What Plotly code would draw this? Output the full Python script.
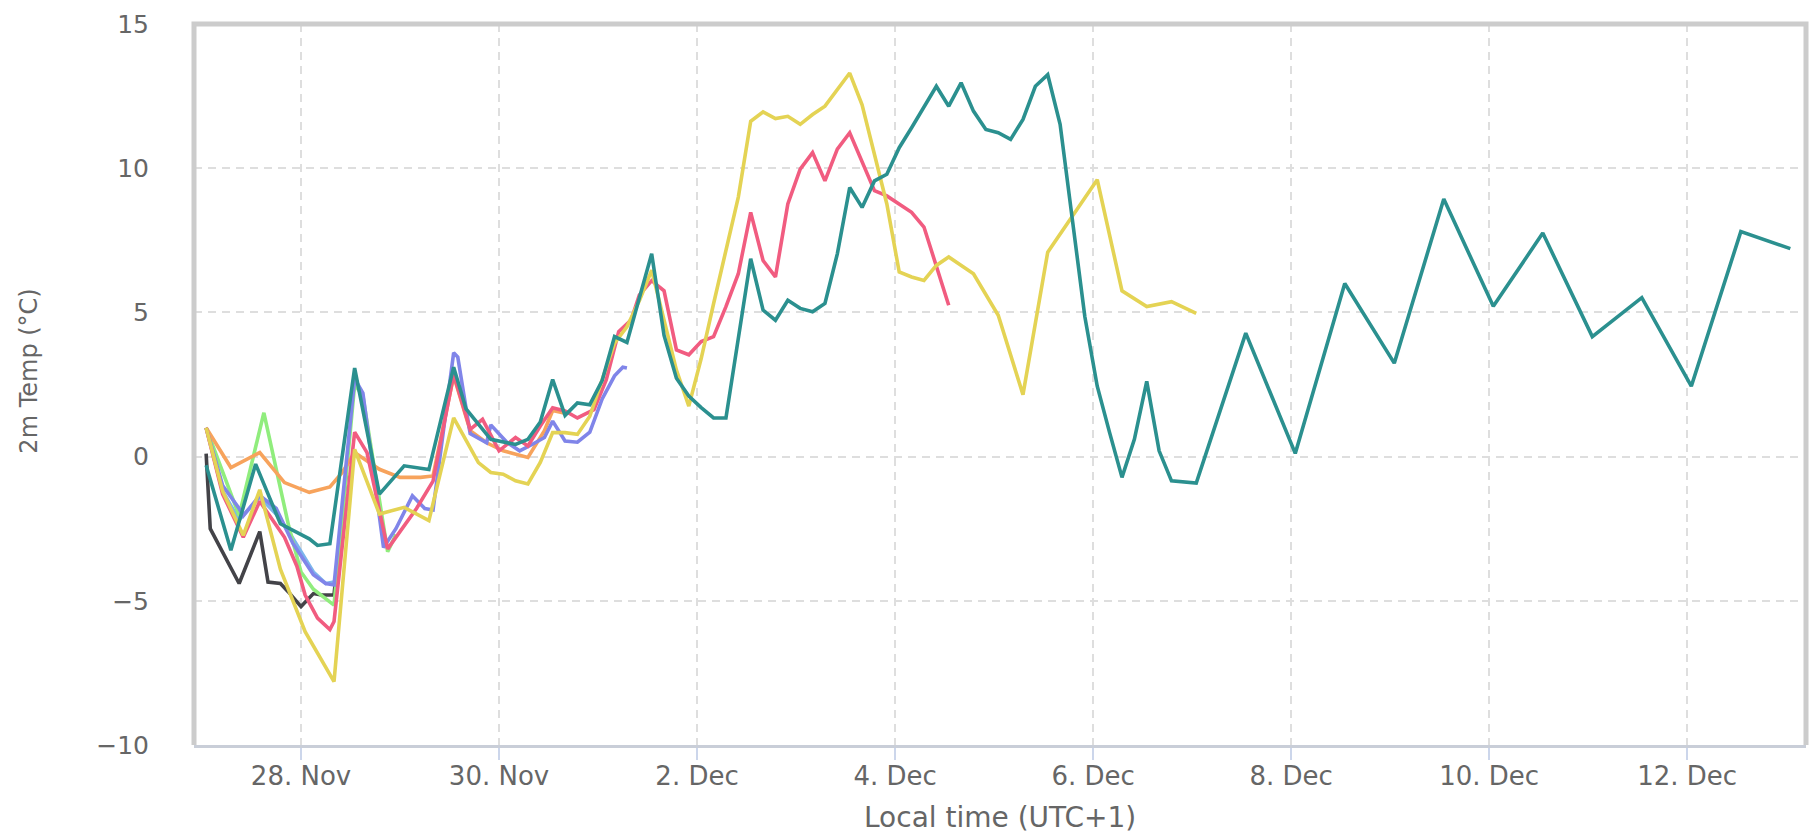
import pandas as pd
import plotly.graph_objects as go

# ---- data (hours after 27 Nov 00:00 local, 2m temperature in °C) ----
BASE = pd.Timestamp("2023-11-27 00:00")

light_blue = [(1, 1.0), (5, -1.2), (9, -2.2), (14, -1.4), (18, -2.0), (21, -2.6),
              (24, -3.3), (27, -4.0), (30, -4.4), (32, -4.35)]

dark = [(1, 0.1), (2, -2.5), (9, -4.4), (14, -2.6), (16, -4.35), (19, -4.4), (21, -4.7),
        (24, -5.2), (27, -4.75), (29, -4.8), (32, -4.8), (35, -0.55)]

green = [(1, 1.0), (9, -2.05), (15, 1.52), (21, -2.4), (24, -4.0), (27, -4.6), (32, -5.15),
         (37, 2.5), (39, 2.1), (45, -3.3), (47, -2.7)]

orange = [(1, 1.0), (7, -0.38), (14, 0.14), (20, -0.9), (26, -1.24), (31, -1.05), (34, -0.55),
          (37, 0.14), (43, -0.44), (48, -0.72), (53, -0.72), (56, -0.67), (61, 2.8), (65, 0.9),
          (69, 0.48), (73, 0.2), (79, -0.03), (83, 0.9), (85, 1.6), (88, 1.5)]

purple = [(1, 1.0), (5, -1.0), (9, -1.8), (10, -2.05), (14, -1.35), (18, -1.8), (22, -3.0),
          (27, -4.1), (30, -4.4), (32, -4.45), (37, 2.7), (39, 2.2), (44, -3.15), (47, -2.5),
          (51, -1.36), (54, -1.8), (56, -1.85), (61, 3.6), (62, 3.45), (65, 0.8), (69, 0.48),
          (70, 1.1), (74, 0.48), (77, 0.2), (80, 0.42), (83, 0.66), (85, 1.23), (88, 0.54),
          (91, 0.5), (94, 0.85), (97, 2.0), (100, 2.8), (102, 3.1), (103, 3.07)]

pink = [(1, 1.0), (5, -1.3), (10, -2.8), (14, -1.55), (20, -2.8), (23, -3.8), (25, -4.8),
        (28, -5.6), (31, -6.0), (32, -5.72), (37, 0.85), (40, 0.14), (45, -3.2), (48, -2.62),
        (52, -1.8), (56, -0.85), (61, 2.85), (65, 0.94), (68, 1.29), (72, 0.2), (76, 0.66),
        (79, 0.37), (82, 1.06), (85, 1.69), (88, 1.58), (91, 1.34), (95, 1.63), (98, 2.67),
        (101, 4.33), (104, 4.73), (106, 5.6), (109, 6.1), (112, 5.75), (115, 3.7), (118, 3.53),
        (121, 3.99), (124, 4.16), (127, 5.2), (130, 6.34), (133, 8.47), (136, 6.8), (139, 6.23),
        (142, 8.76), (145, 9.97), (148, 10.54), (151, 9.56), (154, 10.66), (157, 11.23),
        (160, 10.2), (163, 9.22), (166, 9.04), (169, 8.76), (172, 8.47), (175, 7.96),
        (178, 6.57), (181, 5.25)]

yellow = [(1, 1.0), (5, -1.2), (10, -2.73), (14, -1.15), (19, -3.9), (25, -6.07), (32, -7.8),
          (37, 0.25), (43, -1.99), (49, -1.76), (55, -2.22), (61, 1.34), (67, -0.21), (70, -0.55),
          (73, -0.61), (76, -0.84), (79, -0.95), (82, -0.2), (85, 0.83), (88, 0.83), (91, 0.77),
          (94, 1.4), (97, 2.67), (100, 3.93), (103, 4.5), (106, 5.4), (109, 6.46), (112, 4.7),
          (115, 3.0), (118, 1.75), (121, 3.4), (124, 5.3), (127, 7.15), (130, 9.0), (133, 11.63),
          (136, 11.95), (139, 11.72), (142, 11.8), (145, 11.52), (148, 11.86), (151, 12.15),
          (154, 12.72), (157, 13.3), (160, 12.2), (163, 10.48), (166, 8.76), (169, 6.4),
          (172, 6.23), (175, 6.11), (178, 6.63), (181, 6.92), (187, 6.34), (193, 4.9),
          (199, 2.15), (205, 7.09), (217, 9.6), (223, 5.75), (229, 5.2), (235, 5.37), (241, 4.97)]

teal = [(1, -0.3), (7, -3.25), (13, -0.26), (19, -2.33), (26, -2.85), (28, -3.08), (31, -3.02),
        (37, 3.07), (43, -1.3), (49, -0.32), (55, -0.45), (61, 3.1), (64, 1.65), (70, 0.6),
        (76, 0.42), (79, 0.6), (82, 1.2), (85, 2.67), (88, 1.43), (91, 1.86), (94, 1.8),
        (97, 2.64), (100, 4.16), (103, 3.96), (109, 7.03), (112, 4.2), (115, 2.72), (118, 2.1),
        (121, 1.7), (124, 1.34), (127, 1.34), (133, 6.86), (136, 5.08), (139, 4.73), (142, 5.42),
        (145, 5.14), (148, 5.02), (151, 5.31), (154, 7.03), (157, 9.33), (160, 8.64), (163, 9.56),
        (166, 9.79), (169, 10.71), (172, 11.4), (175, 12.15), (178, 12.84), (181, 12.15),
        (184, 12.96), (187, 11.98), (190, 11.34), (193, 11.23), (196, 11.0), (199, 11.69),
        (202, 12.84), (205, 13.24), (208, 11.52), (214, 4.85), (217, 2.44), (220, 0.83),
        (223, -0.72), (226, 0.6), (229, 2.61), (232, 0.2), (235, -0.84), (241, -0.92),
        (253, 4.28), (265, 0.11), (277, 6.0), (289, 3.24), (301, 8.93), (313, 5.21), (325, 7.75),
        (337, 4.16), (349, 5.51), (361, 2.44), (373, 7.8), (385, 7.21)]

series = [
    (light_blue, "#7cb5ec"),
    (dark, "#434348"),
    (green, "#90ed7d"),
    (orange, "#f7a35c"),
    (purple, "#8085e9"),
    (pink, "#f15c80"),
    (yellow, "#e4d354"),
    (teal, "#2b908f"),
]

X_START_H = -1.94
X_END_H = 388.8
Y_RANGE = [-10, 15]
FONT = "DejaVu Sans"
TEXT_COL = "#666666"


def to_time(h):
    return BASE + pd.Timedelta(hours=h)


fig = go.Figure()
for data, col in series:
    fig.add_trace(go.Scatter(
        x=[to_time(h) for h, _ in data],
        y=[t for _, t in data],
        mode="lines",
        line=dict(color=col, width=3.6),
        hoverinfo="skip",
        showlegend=False,
    ))

fig.update_layout(
    width=1816, height=836,
    margin=dict(l=194, r=10, t=17, b=91),
    paper_bgcolor="white", plot_bgcolor="white",
    showlegend=False,
    font=dict(family=FONT, color=TEXT_COL),
)

fig.update_xaxes(
    type="date",
    range=[to_time(X_START_H), to_time(X_END_H)],
    tick0="2023-11-28", dtick=2 * 86400000,
    tickformat="%-d. %b",
    showgrid=True, gridcolor="#dedede", gridwidth=1.5, griddash="8px,6px",
    ticks="outside", ticklen=12, tickwidth=1.5, tickcolor="#ccd6eb",
    showline=True, linecolor="#c9ced8", linewidth=3,
    zeroline=False,
    ticklabelstandoff=-6,
    tickfont=dict(family=FONT, size=26, color=TEXT_COL),
)
fig.update_yaxes(
    range=Y_RANGE, tick0=-10, dtick=5,
    showgrid=True, gridcolor="#dedede", gridwidth=1.5, griddash="8px,6px",
    ticks="", showline=False, zeroline=False,
    ticklabelstandoff=44,
    tickfont=dict(family=FONT, size=25, color=TEXT_COL),
)

# plot border (top, left, right)
fig.add_shape(type="path", xref="paper", yref="paper",
              path="M 0,0 L 0,1 L 1,1 L 1,0",
              line=dict(color="#cccccc", width=5), layer="above")

# axis titles
fig.add_annotation(text="Local time (UTC+1)", xref="paper", yref="paper",
                   x=0.5, y=(745 - 818) / 728, xanchor="center", yanchor="middle",
                   showarrow=False, font=dict(family=FONT, size=28, color=TEXT_COL))
fig.add_annotation(text="2m Temp (°C)", xref="paper", yref="paper",
                   x=(29 - 194) / 1612, y=(745 - 368) / 728, xanchor="center", yanchor="middle",
                   textangle=-90, showarrow=False,
                   font=dict(family=FONT, size=24, color=TEXT_COL))

fig.write_html("out.html")
